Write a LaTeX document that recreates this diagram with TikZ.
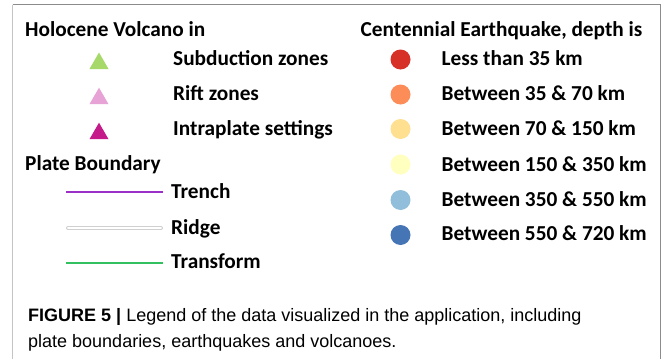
\documentclass[tikz,border=0pt]{standalone}
\usepackage{fontspec}
\usetikzlibrary{shapes.geometric}
\setmainfont{Carlito}
\newfontfamily\capfont{Liberation Sans}
\definecolor{frameL}{HTML}{C4C4C4}
\definecolor{frameR}{HTML}{8C8C8C}
\definecolor{volSub}{HTML}{A6D96A}
\definecolor{volRift}{HTML}{E7A2D6}
\definecolor{volIntra}{HTML}{C51B8A}
\definecolor{trench}{HTML}{9B30C8}
\definecolor{transf}{HTML}{33C060}
\definecolor{ridgeo}{HTML}{D0D0D0}
\definecolor{eqA}{HTML}{D73027}
\definecolor{eqB}{HTML}{FC8D59}
\definecolor{eqC}{HTML}{FEE090}
\definecolor{eqD}{HTML}{FFFFBF}
\definecolor{eqE}{HTML}{91BFDB}
\definecolor{eqF}{HTML}{4575B4}
\begin{document}
\begin{tikzpicture}[x=1pt,y=-1pt,
  lbl/.style={anchor=base west,inner sep=0pt,font=\fontsize{21.3}{21.3}\selectfont\bfseries},
  tri/.style={regular polygon,regular polygon sides=3,minimum size=22pt,inner sep=0pt,draw=none},
  dot/.style={circle,minimum size=20pt,inner sep=0pt,draw=none},
  captext/.style={anchor=base west,inner sep=0pt,font=\capfont\fontsize{18}{18}\selectfont}]
\useasboundingbox (0,0) rectangle (662,359);
\fill[white] (0,0) rectangle (662,359);
% frame
\draw[frameL,line width=1.5pt] (12.5,4.5) -- (12.5,359);
\draw[frameR,line width=1.5pt] (660.5,4.5) -- (660.5,359);
\draw[frameR,line width=1.2pt] (12.5,4.5) -- (660.5,4.5);
% left column
\node[lbl] (hv) at (25,36) {Holocene Volcano in};
\node[tri,fill=volSub] (t1) at (99,63.5) {};
\node[tri,fill=volRift] (t2) at (99,98.7) {};
\node[tri,fill=volIntra] (t3) at (99,133.7) {};
\node[lbl] (l1) at (173,65) {Subduction zones};
\node[lbl] (l2) at (173,100) {Rift zones};
\node[lbl] (l3) at (173,135.5) {Intraplate settings};
\node[lbl] (pb) at (25,170) {Plate Boundary};
\coordinate (a1) at (66,192); \coordinate (b1) at (163,192);
\coordinate (a2) at (68,228); \coordinate (b2) at (161,228);
\coordinate (a3) at (66,263); \coordinate (b3) at (163,263);
\draw[trench,line width=1.2pt] (a1) -- (b1);
\draw[ridgeo,line width=4pt,line cap=round] (a2) -- (b2);
\draw[white,line width=2pt,line cap=round] (a2) -- (b2);
\draw[transf,line width=1.2pt] (a3) -- (b3);
\node[lbl] (r1) at (171,198) {Trench};
\node[lbl] (r2) at (171,234) {Ridge};
\node[lbl] (r3) at (171,268.5) {Transform};
% right column
\node[lbl] (ce) at (360.5,36) {Centennial Earthquake, depth is};
\node[dot,fill=eqA] (c1) at (400.5,59.5) {};
\node[dot,fill=eqB] (c2) at (400.5,94.5) {};
\node[dot,fill=eqC] (c3) at (400.5,129) {};
\node[dot,fill=eqD] (c4) at (400.5,164.5) {};
\node[dot,fill=eqE] (c5) at (400.5,200) {};
\node[dot,fill=eqF] (c6) at (400.5,235) {};
\node[lbl] (d1) at (441.5,65.5) {Less than 35 km};
\node[lbl] (d2) at (441.5,100.5) {Between 35 \& 70 km};
\node[lbl] (d3) at (441.5,135.5) {Between 70 \& 150 km};
\node[lbl] (d4) at (441.5,171) {Between 150 \& 350 km};
\node[lbl] (d5) at (441.5,206) {Between 350 \& 550 km};
\node[lbl] (d6) at (441.5,240.5) {Between 550 \& 720 km};
% caption
\node[captext] (cap1) at (28,321) {\textbf{FIGURE 5 |} Legend of the data visualized in the application, including};
\node[captext] (cap2) at (28,347) {plate boundaries, earthquakes and volcanoes.};
\end{tikzpicture}
\end{document}
